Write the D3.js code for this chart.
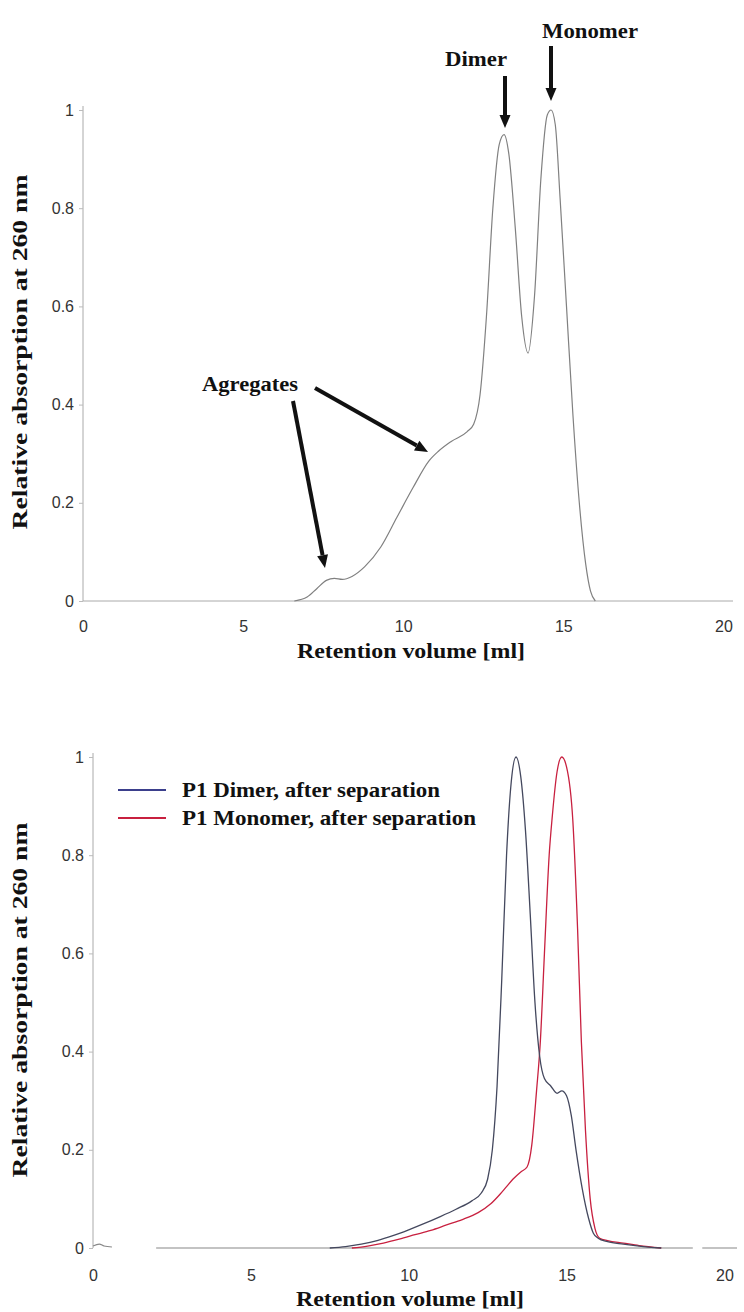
<!DOCTYPE html>
<html>
<head>
<meta charset="utf-8">
<script src="https://cdn.jsdelivr.net/npm/d3@7"></script>
<style>
  body { margin: 0; background: #fff; }
  .tick text { font-family: "Liberation Sans", Arial, sans-serif; font-size: 16px; fill: #333; }
  .title { font-family: "Liberation Serif", "Times New Roman", serif; font-weight: bold; fill: #111; }
</style>
</head>
<body>
<svg width="744" height="1312"></svg>
<script>
// chromatogram before separation (x = ml, y = relative absorption)
const topX = [6.6, 7.0, 7.3, 7.6, 7.85, 8.1, 8.4, 8.8, 9.3, 9.8, 10.3, 10.8, 11.1, 11.5, 12.0, 12.2, 12.4, 12.6, 12.8, 13.0, 13.15, 13.3, 13.5, 13.7, 13.9, 14.1, 14.3, 14.5, 14.62, 14.75, 14.9, 15.1, 15.3, 15.5, 15.7, 15.85, 16.0];
const topY = [0, 0.008, 0.025, 0.042, 0.046, 0.044, 0.05, 0.07, 0.11, 0.17, 0.23, 0.285, 0.305, 0.325, 0.345, 0.36, 0.42, 0.58, 0.8, 0.93, 0.95, 0.91, 0.76, 0.58, 0.505, 0.62, 0.86, 0.99, 1.0, 0.97, 0.82, 0.6, 0.38, 0.2, 0.075, 0.02, 0];

// after separation
const dimerX = [7.5, 8.0, 8.5, 9.0, 9.5, 10.0, 10.5, 11.0, 11.5, 12.0, 12.3, 12.5, 12.65, 12.8, 12.95, 13.1, 13.25, 13.4, 13.55, 13.7, 13.85, 14.0, 14.15, 14.3, 14.5, 14.7, 14.85, 15.0, 15.15, 15.3, 15.5, 15.7, 15.85, 16.0, 16.3, 16.8, 17.3, 18.0];
const dimerY = [0, 0.003, 0.008, 0.015, 0.025, 0.037, 0.05, 0.064, 0.079, 0.096, 0.112, 0.14, 0.2, 0.33, 0.55, 0.8, 0.95, 1.0, 0.96, 0.85, 0.68, 0.5, 0.39, 0.345, 0.33, 0.315, 0.32, 0.31, 0.27, 0.2, 0.12, 0.06, 0.03, 0.02, 0.013, 0.008, 0.004, 0];
const monoX = [8.2, 8.7, 9.2, 9.7, 10.2, 10.7, 11.2, 11.7, 12.2, 12.6, 12.9, 13.1, 13.3, 13.55, 13.75, 13.9, 14.05, 14.17, 14.3, 14.45, 14.55, 14.7, 14.85, 15.0, 15.2, 15.35, 15.47, 15.6, 15.75, 15.9, 16.05, 16.3, 16.8, 17.3, 18.0];
const monoY = [0, 0.004, 0.01, 0.018, 0.027, 0.036, 0.047, 0.058, 0.072, 0.09, 0.11, 0.125, 0.14, 0.155, 0.165, 0.21, 0.32, 0.42, 0.6, 0.8, 0.88, 0.97, 1.0, 0.98, 0.87, 0.65, 0.42, 0.24, 0.1, 0.04, 0.02, 0.015, 0.01, 0.005, 0];
// flat baseline pieces of the recorder trace (null = gap)
const baseX = [0, 0.2, 0.35, 0.6, 0.61, 2.0, 19.0, 19.01, 19.3, 20.4];
const baseY = [0.004, 0.008, 0.004, 0.002, null, 0, 0, null, 0, 0];

const xTicks = [0, 5, 10, 15, 20];
const yTicks = [0, 0.2, 0.4, 0.6, 0.8, 1];
const seriesNames = ["P1 Dimer, after separation", "P1 Monomer, after separation"];
const seriesColors = ["#3b3f8c", "#c8203f"];

const svg = d3.select("svg");
const zip = (xs, ys) => xs.map((x, i) => ({x, y: ys[i]}));

function drawPanel(opt) {
    const x = d3.scaleLinear().domain([0, opt.xMax]).range([opt.left, opt.right]);
    const y = d3.scaleLinear().domain([0, 1]).range([opt.bottom, opt.top]);
    const g = svg.append("g");

    // y axis
    const ya = g.append("g")
        .attr("transform", `translate(${opt.left},0)`)
        .call(d3.axisLeft(y).tickValues(yTicks).tickFormat(d => d).tickSize(4).tickSizeOuter(0));
    ya.select(".domain").attr("stroke", "#aaa").attr("d", `M0,${opt.bottom}V${opt.top - 4}`);
    ya.selectAll(".tick line").attr("stroke", "#bbb");
    ya.selectAll(".tick text").attr("x", -9);

    // x labels
    const xa = g.append("g")
        .attr("transform", `translate(0,${opt.bottom})`)
        .call(d3.axisBottom(x).tickValues(xTicks).tickSize(0).tickPadding(opt.xPad));
    if (opt.xLine) xa.select(".domain").attr("stroke", "#aaa").attr("d", `M${opt.left},0H${opt.right}`);
    else xa.select(".domain").remove();

    g.append("text").attr("class", "title")
        .attr("x", opt.xTitleX).attr("y", opt.xTitleY)
        .attr("text-anchor", "middle").attr("font-size", 21)
        .attr("textLength", 228).attr("lengthAdjust", "spacingAndGlyphs")
        .text("Retention volume [ml]");
    g.append("text").attr("class", "title")
        .attr("transform", `translate(${opt.yTitleX},${opt.yTitleY}) rotate(-90)`)
        .attr("text-anchor", "middle").attr("font-size", 21)
        .attr("textLength", 355).attr("lengthAdjust", "spacingAndGlyphs")
        .text("Relative absorption at 260 nm");

    return {x, y, g};
}

// ---- top panel
const p1 = drawPanel({left: 83, right: 733, xMax: 20.3, top: 110, bottom: 601, xLine: true, xPad: 20,
    xTitleX: 411, xTitleY: 658, yTitleX: 27, yTitleY: 352});
const line1 = d3.line().x(d => p1.x(d.x)).y(d => p1.y(d.y)).curve(d3.curveMonotoneX);
p1.g.append("path").datum(zip(topX, topY))
    .attr("fill", "none").attr("stroke", "#808080").attr("stroke-width", 1.2)
    .attr("d", line1);

// annotations
function arrow(x1, y1, x2, y2) {
    const a = Math.atan2(y2 - y1, x2 - x1);
    const hl = 13, hw = 5.5;
    const bx = x2 - hl * Math.cos(a), by = y2 - hl * Math.sin(a);
    svg.append("line").attr("x1", x1).attr("y1", y1).attr("x2", bx).attr("y2", by)
        .attr("stroke", "#111").attr("stroke-width", 4);
    svg.append("path")
        .attr("d", `M${x2},${y2}L${bx + hw * Math.sin(a)},${by - hw * Math.cos(a)}L${bx - hw * Math.sin(a)},${by + hw * Math.cos(a)}Z`)
        .attr("fill", "#111");
}
svg.append("text").attr("class", "title").attr("x", 476).attr("y", 66).attr("text-anchor", "middle")
    .attr("font-size", 21).attr("textLength", 62).attr("lengthAdjust", "spacingAndGlyphs").text("Dimer");
svg.append("text").attr("class", "title").attr("x", 590).attr("y", 38).attr("text-anchor", "middle")
    .attr("font-size", 21).attr("textLength", 96).attr("lengthAdjust", "spacingAndGlyphs").text("Monomer");
svg.append("text").attr("class", "title").attr("x", 250).attr("y", 391).attr("text-anchor", "middle")
    .attr("font-size", 21).attr("textLength", 96).attr("lengthAdjust", "spacingAndGlyphs").text("Agregates");
arrow(505, 76, 505, 128);
arrow(551, 46, 551, 101);
arrow(293, 401, 325, 568);
arrow(315, 388, 428, 452);

// ---- bottom panel
const p2 = drawPanel({left: 93, right: 737, xMax: 20.4, top: 757, bottom: 1248, xLine: false, xPad: 22,
    xTitleX: 410, xTitleY: 1306, yTitleX: 27, yTitleY: 1000});
const line2 = d3.line().defined(d => d.y !== null)
    .x(d => p2.x(d.x)).y(d => p2.y(d.y)).curve(d3.curveMonotoneX);
p2.g.append("path").datum(zip(baseX, baseY))
    .attr("fill", "none").attr("stroke", "#888").attr("stroke-width", 1.2).attr("d", line2);
p2.g.append("path").datum(zip(monoX, monoY))
    .attr("fill", "none").attr("stroke", seriesColors[1]).attr("stroke-width", 1.3).attr("d", line2);
p2.g.append("path").datum(zip(dimerX, dimerY))
    .attr("fill", "none").attr("stroke", "#44485e").attr("stroke-width", 1.3).attr("d", line2);

// legend
const legendWidths = [258, 294];
const leg = svg.append("g").selectAll("g").data(seriesNames).join("g")
    .attr("transform", (d, i) => `translate(118,${790 + i * 28})`);
leg.append("line").attr("x1", 0).attr("x2", 48)
    .attr("stroke", (d, i) => seriesColors[i]).attr("stroke-width", 2);
leg.append("text").attr("class", "title").attr("x", 64).attr("y", 7)
    .attr("font-size", 21).attr("textLength", (d, i) => legendWidths[i]).attr("lengthAdjust", "spacingAndGlyphs")
    .text(d => d);
</script>
</body>
</html>
